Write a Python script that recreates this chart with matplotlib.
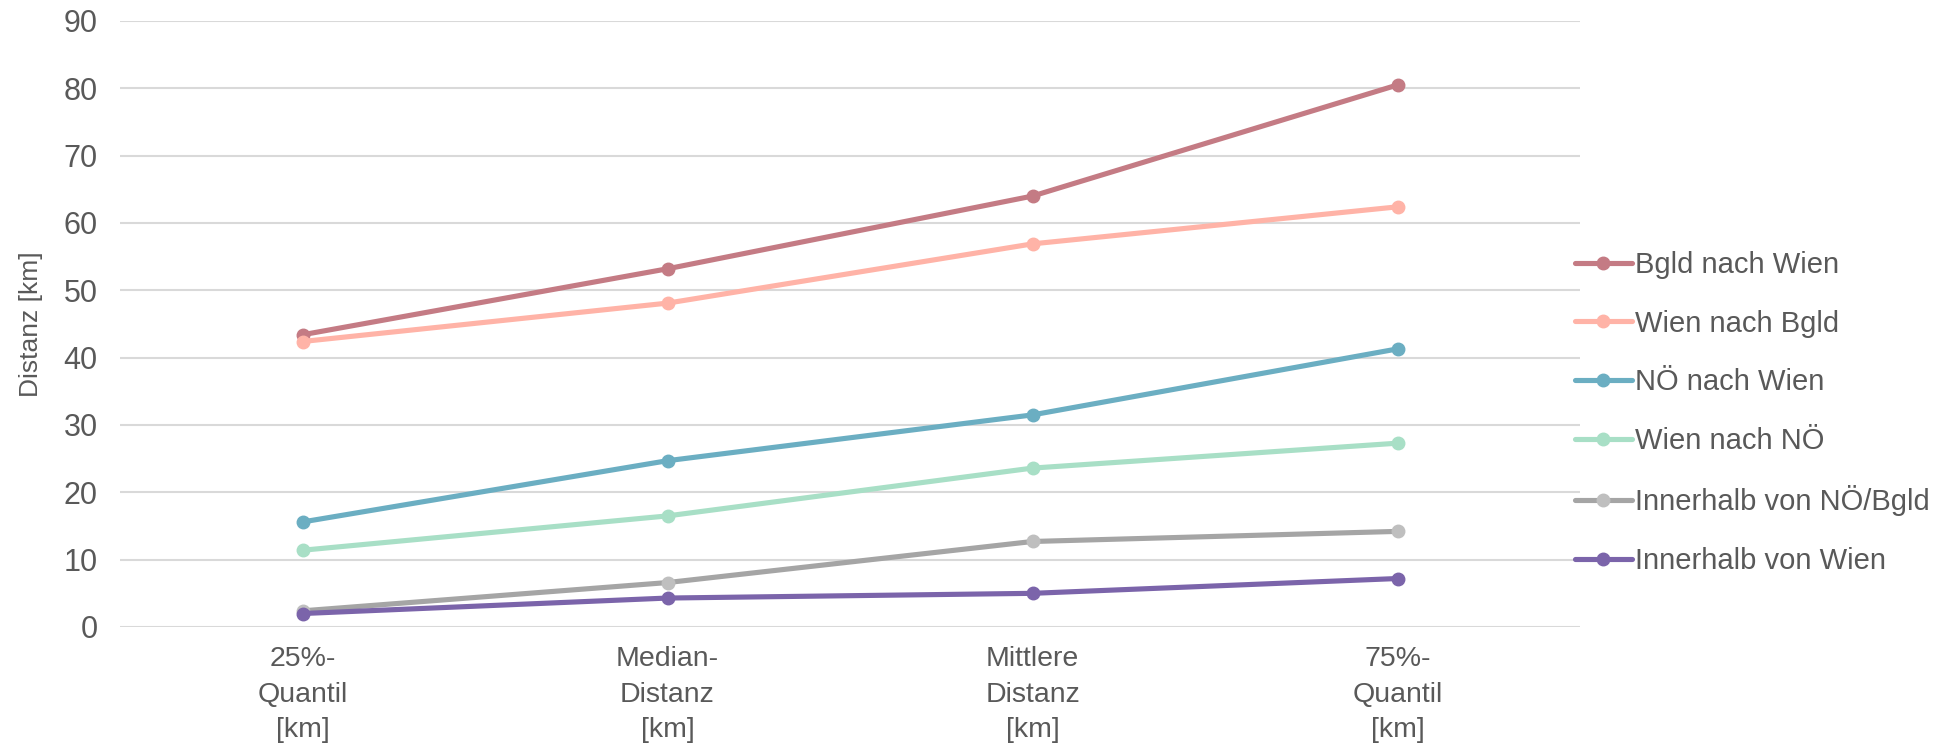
import matplotlib
matplotlib.use("Agg")
import matplotlib.pyplot as plt

categories = ["25%-\nQuantil\n[km]", "Median-\nDistanz\n[km]", "Mittlere\nDistanz\n[km]", "75%-\nQuantil\n[km]"]

bgld_nach_wien = [43.4, 53.2, 64.0, 80.5]
wien_nach_bgld = [42.4, 48.1, 56.9, 62.4]
noe_nach_wien = [15.6, 24.7, 31.5, 41.3]
wien_nach_noe = [11.4, 16.5, 23.6, 27.3]
innerhalb_noe_bgld = [2.4, 6.6, 12.7, 14.2]
innerhalb_wien = [2.0, 4.3, 5.0, 7.2]

series_names = ["Bgld nach Wien", "Wien nach Bgld", "NÖ nach Wien", "Wien nach NÖ",
                "Innerhalb von NÖ/Bgld", "Innerhalb von Wien"]
series_values = [bgld_nach_wien, wien_nach_bgld, noe_nach_wien, wien_nach_noe,
                 innerhalb_noe_bgld, innerhalb_wien]
line_colors = ["#C47B84", "#FFB3A7", "#6BAEC2", "#A8DFC6", "#A5A5A5", "#7B64AA"]
marker_colors = ["#C47B84", "#FFB3A7", "#6BAEC2", "#A8DFC6", "#BFBFBF", "#7B64AA"]

yticks = [0, 10, 20, 30, 40, 50, 60, 70, 80, 90]

TXT = "#595959"
plt.rcParams["font.family"] = ["Liberation Sans", "DejaVu Sans"]

fig = plt.figure(figsize=(19.36, 7.44), dpi=100)
ax = fig.add_axes([120/1936, 1 - 627/744, 1460/1936, 606/744])

x = list(range(len(categories)))
for name, vals, lc, mc in zip(series_names, series_values, line_colors, marker_colors):
    ax.plot(x, vals, color=lc, linewidth=3.7, marker="o", markersize=9,
            markerfacecolor=mc, markeredgecolor=mc, label=name,
            solid_capstyle="round", zorder=3)

ax.set_xlim(-0.5, len(categories) - 0.5)
ax.set_ylim(0, 90)
ax.set_yticks(yticks)
ax.set_xticks(x)
ax.set_xticklabels(categories, fontsize=20.5, color=TXT, linespacing=1.46)
ax.tick_params(axis="y", labelsize=22, labelcolor=TXT, length=0, pad=16)
ax.tick_params(axis="x", length=0, pad=14)
ax.grid(axis="y", color="#D9D9D9", linewidth=1.5, zorder=0)
ax.set_axisbelow(True)
for s in ax.spines.values():
    s.set_visible(False)

ax.set_ylabel("Distanz [km]", fontsize=19, color=TXT, labelpad=15)

leg = fig.legend(loc="center left", bbox_to_anchor=(1575/1936, 1 - 413/744),
                 frameon=False, fontsize=21, handlelength=1.95, handletextpad=0.12,
                 labelspacing=1.05, borderpad=0, borderaxespad=0)
for t in leg.get_texts():
    t.set_color(TXT)

fig.savefig("out.png", dpi=100)
